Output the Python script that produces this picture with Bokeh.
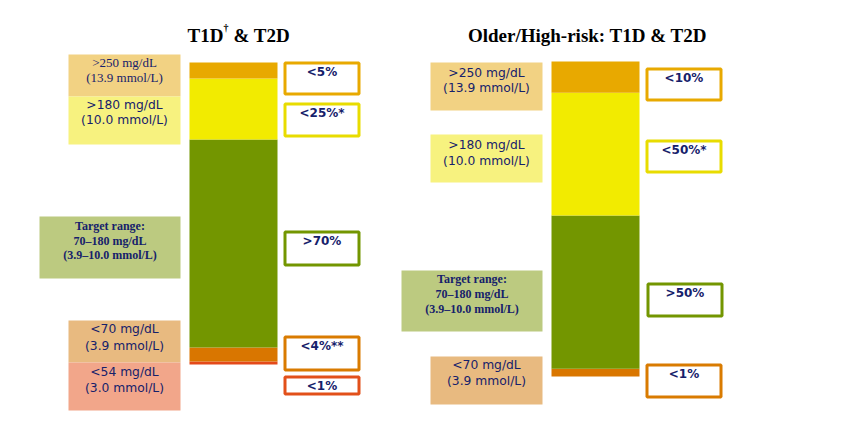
from bokeh.plotting import figure
from bokeh.models import Range1d, ColumnDataSource
from bokeh.core.properties import value
from bokeh.embed import file_html
from bokeh.resources import INLINE

# ---------------- data ----------------
left_title = ["T1D", "†", "& T2D"]
right_title = "Older/High-risk: T1D & T2D"

# stacked bar segments, bottom -> top (% of time)
left_segments = ["<54", "54–70", "70–180", "180–250", ">250"]
left_values = [1.0, 4.6, 68.9, 20.2, 5.3]
right_segments = ["<70", "70–180", "180–250", ">250"]
right_values = [2.5, 48.6, 39.0, 9.9]

# target labels (top -> bottom)
left_targets = ["<5%", "<25%*", ">70%", "<4%**", "<1%"]
right_targets = ["<10%", "<50%*", ">50%", "<1%"]

# range labels
lbl_250_serif = [">250 mg/dL", "(13.9 mmol/L)"]
lbl_250 = [">250 mg/dL", "(13.9 mmol/L)"]
lbl_180 = [">180 mg/dL", "(10.0 mmol/L)"]
lbl_target = ["Target range:", "70–180 mg/dL", "(3.9–10.0 mmol/L)"]
lbl_70 = ["<70 mg/dL", "(3.9 mmol/L)"]
lbl_54 = ["<54 mg/dL", "(3.0 mmol/L)"]

# ---------------- styles ----------------
C_VHIGH = "#E8A900"
C_HIGH = "#F2EB00"
C_TIR = "#739600"
C_LOW = "#D97600"
C_VLOW = "#E4491A"
left_colors = [C_VLOW, C_LOW, C_TIR, C_HIGH, C_VHIGH]
right_colors = [C_LOW, C_TIR, C_HIGH, C_VHIGH]
NAVY = "#16216B"
SERIF = "Liberation Serif"
SANS = "DejaVu Sans"

W, H, M = 845, 411, 0

p = figure(width=W, height=H, output_backend="svg", toolbar_location=None,
           x_axis_type=None, y_axis_type=None, min_border=0,
           x_range=Range1d(M, M + W), y_range=Range1d(M + H, M))
p.outline_line_color = None
p.grid.visible = False
p.background_fill_color = "white"
p.border_fill_color = "white"


def bar_range(values, top_px, bottom_px):
    total = sum(values)
    k = total / (bottom_px - top_px)
    return Range1d(start=-(M + H - bottom_px) * k, end=total + (top_px - M) * k)


p.extra_y_ranges = {"lbar": bar_range(left_values, 62, 364),
                    "rbar": bar_range(right_values, 61, 376)}


def stacked(values, colors, xc, rname):
    bottoms, tops, acc = [], [], 0.0
    for v in values:
        bottoms.append(acc)
        acc += v
        tops.append(acc)
    src = ColumnDataSource(dict(x=[xc] * len(values), b=bottoms, t=tops, c=colors))
    p.vbar(x="x", width=88, bottom="b", top="t", fill_color="c", line_color=None,
           y_range_name=rname, source=src)


stacked(left_values, left_colors, 233, "lbar")
stacked(right_values, right_colors, 595, "rbar")


def label_box(x0, x1, y0, y1, fill, lines, ys, font, size, bold=False):
    p.quad(left=[x0], right=[x1], top=[y0], bottom=[y1], fill_color=fill, line_color=None)
    p.text(x=[(x0 + x1) / 2] * len(lines), y=ys, text=lines,
           text_font=value(font), text_font_size=value(size),
           text_font_style="bold" if bold else "normal",
           text_color=NAVY, text_align="center", text_baseline="middle")


def target_box(x0, x1, y0, y1, color, txt):
    p.quad(left=[x0 + 1.5], right=[x1 - 1.5], top=[y0 + 1.5], bottom=[y1 - 1.5],
           fill_color="white", line_color=color, line_width=3)
    p.text(x=[(x0 + x1) / 2], y=[y0 + 10.5], text=[txt],
           text_font=value(SANS), text_font_size=value("12px"), text_font_style="bold",
           text_color=NAVY, text_align="center", text_baseline="middle")


# left panel labels
label_box(68, 180, 54, 96, "#F2D283", lbl_250_serif, [62, 77], SERIF, "13px")
label_box(68, 180, 96, 144, "#F7F27F", lbl_180, [104.5, 119.5], SANS, "12.3px")
label_box(39, 180, 216, 278, "#BCCA80", lbl_target, [225.5, 240, 254.5], SERIF, "12px", True)
label_box(68, 180, 320, 362, "#E8BA80", lbl_70, [328.5, 345], SANS, "12.3px")
label_box(68, 180, 362, 410, "#F2A68A", lbl_54, [371.5, 387.5], SANS, "12.3px")

# right panel labels
label_box(430, 542, 62, 110, "#F2D283", lbl_250, [72, 87.5], SANS, "12.3px")
label_box(430, 542, 134, 182, "#F7F27F", lbl_180, [144.5, 160], SANS, "12.3px")
label_box(401, 542, 270, 331, "#BCCA80", lbl_target, [278, 293, 308], SERIF, "12px", True)
label_box(430, 542, 356, 404, "#E8BA80", lbl_70, [364.5, 380.5], SANS, "12.3px")

# left targets
left_tboxes = [(61, 95, C_VHIGH), (102, 137, "#E8DC00"), (230, 266, C_TIR),
               (335, 371, "#D97B00"), (375, 395, "#E2501A")]
for (y0, y1, c), t in zip(left_tboxes, left_targets):
    target_box(283, 360, y0, y1, c, t)

# right targets
right_tboxes = [(645, 722, 67, 101, C_VHIGH), (645, 722, 139, 173, "#E8DC00"),
                (646, 723, 282, 317, C_TIR), (645, 722, 363, 398, "#D97B00")]
for (x0, x1, y0, y1, c), t in zip(right_tboxes, right_targets):
    target_box(x0, x1, y0, y1, c, t)

# titles
p.text(x=[187], y=[34.5], text=[left_title[0]], text_font=value(SERIF),
       text_font_size=value("19px"), text_font_style="bold", text_color="black",
       text_align="left", text_baseline="alphabetic")
p.text(x=[223], y=[27], text=[left_title[1]], text_font=value(SERIF),
       text_font_size=value("10px"), text_font_style="bold", text_color="black",
       text_align="left", text_baseline="alphabetic")
p.text(x=[233], y=[34.5], text=[left_title[2]], text_font=value(SERIF),
       text_font_size=value("19px"), text_font_style="bold", text_color="black",
       text_align="left", text_baseline="alphabetic")
p.text(x=[587], y=[34.5], text=[right_title], text_font=value(SERIF),
       text_font_size=value("19px"), text_font_style="bold", text_color="black",
       text_align="center", text_baseline="alphabetic")

open("out.html", "w").write(file_html(p, INLINE))
